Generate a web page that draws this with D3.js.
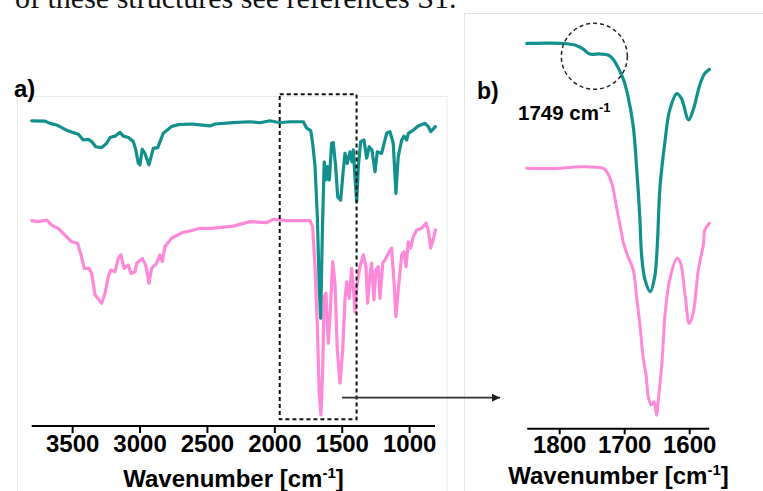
<!DOCTYPE html>
<html>
<head>
<meta charset="utf-8">
<script src="https://cdn.jsdelivr.net/npm/d3@7"></script>
<style>
  html, body { margin: 0; padding: 0; background: #fff; }
  svg { display: block; }
  text { font-family: "Liberation Sans", Arial, Helvetica, sans-serif; }
</style>
</head>
<body>
<svg id="chart" width="763" height="491"></svg>
<script>
// ---- FTIR spectra (wavenumber in cm^-1, offset transmittance in a.u.) ----
// Full range, upper trace
const teal_full_wn = [3800,3701,3664,3615,3553,3491,3454,3417,3380,3355,3325,3281,3244,3219,3182,3145,3120,3083,3046,3028,3009,2997,2980,2960,2930,2898,2865,2848,2824,2762,2712,2613,2552,2477,2440,2307,2181,2106,2032,1958,1884,1785,1760,1730,1716,1698,1681,1667,1656,1644,1630,1617,1607,1592,1575,1563,1545,1530,1508,1493,1476,1459,1439,1424,1414,1402,1389,1377,1360,1335,1315,1296,1276,1253,1236,1204,1167,1142,1118,1098,1081,1055,1038,1018,1006,969,932,882,858,840,805];
const teal_full_t = [93.5,93.4,92.7,92.2,90.8,89.8,89.3,87.5,87.7,87.0,85.4,85.1,86.5,88.3,88.7,89.9,88.7,88.3,87.0,84.4,80.2,79.7,84.6,83.3,79.7,84.9,85.1,87.0,89.6,91.7,92.3,92.5,92.2,91.9,92.5,92.9,93.2,92.9,93.5,92.9,93.2,93.2,91.2,90.4,86.5,79.2,63.5,41.7,31.8,58.4,80.7,75.0,79.2,75.0,86.5,86.7,79.2,69.8,68.7,76.0,83.3,80.2,83.8,80.7,84.4,76.0,68.2,79.2,87.0,87.5,81.8,85.4,84.4,77.6,83.8,83.3,89.6,90.1,86.5,70.8,82.3,87.5,88.7,87.5,89.6,90.6,91.9,92.7,91.7,90.1,91.7];

// Full range, lower trace
const pink_full_wn = [3800,3751,3689,3652,3603,3553,3503,3459,3434,3410,3375,3355,3330,3316,3281,3256,3232,3212,3182,3158,3138,3115,3083,3063,3034,3021,2980,2954,2930,2910,2873,2848,2831,2811,2762,2687,2613,2552,2465,2305,2181,2057,2008,1908,1736,1716,1698,1681,1667,1654,1641,1630,1617,1600,1587,1567,1550,1533,1513,1493,1476,1463,1444,1426,1414,1402,1389,1365,1340,1320,1308,1290,1278,1261,1246,1229,1216,1196,1172,1155,1130,1112,1098,1081,1055,1038,1023,1006,989,969,944,907,875,858,840,816,805];
const pink_full_t = [62.3,62.0,62.5,60.9,59.9,57.8,55.7,55.2,51.6,47.4,47.4,45.8,39.1,38.4,36.5,39.6,44.8,46.9,46.3,50.5,51.6,47.4,48.4,45.8,46.3,49.0,50.5,48.4,42.7,47.4,49.0,51.6,49.5,54.2,56.8,58.5,59.2,59.9,59.9,60.6,62.0,61.7,62.7,62.3,62.3,60.4,47.9,29.2,8.3,1.6,16.7,38.5,39.6,24.0,32.3,49.5,42.7,21.9,11.5,21.9,37.5,43.2,38.0,47.4,41.7,33.8,41.7,47.9,51.6,47.9,36.5,45.8,49.0,37.5,46.9,47.9,38.0,49.0,50.5,52.1,53.7,43.2,32.3,40.6,51.6,52.6,47.9,55.7,53.7,57.3,59.4,59.9,61.5,59.4,53.7,57.3,59.4];

// Carbonyl region detail, upper trace
const teal_zoom_wn = [1850,1794,1776,1763,1753,1737,1724,1717,1709,1701,1694,1686,1681,1676,1673,1668,1660,1653,1649,1645,1637,1630,1619,1612,1601,1594,1583,1576,1569];
const teal_zoom_t = [93.2,93.2,92.8,91.8,90.6,90.6,90.3,89.3,87.1,84.2,80.0,72.6,62.7,50.3,40.4,34.7,31.8,35.5,43.5,57.5,69.3,76.7,80.8,79.6,74.3,76.7,83.3,85.8,86.8];

// Carbonyl region detail, lower trace
const pink_zoom_wn = [1850,1799,1768,1732,1727,1719,1712,1704,1701,1694,1686,1681,1676,1671,1666,1663,1658,1654,1650,1648,1642,1637,1630,1619,1614,1606,1600,1594,1586,1578,1576,1569];
const pink_zoom_t = [62.3,62.3,62.7,62.3,61.5,58.6,52.8,46.2,43.7,40.4,37.1,30.5,23.9,15.7,10.7,5.8,3.7,4.5,1.2,4.1,14.0,26.4,34.7,40.0,39.2,30.5,23.9,26.4,37.1,43.7,47.0,48.7];

const ticksFull = [3500, 3000, 2500, 2000, 1500, 1000];
const ticksZoom = [1800, 1700, 1600];
const boxRange = [1960, 1390];   // region enlarged in panel b
const shoulderWn = 1749;
const axisTitle = "Wavenumber [cm";

const TEAL = "#12908d";
const PINK = "#ff88d8";

const svg = d3.select("#chart");

// ---------- caption fragment of the surrounding text ----------
svg.append("text")
  .attr("x", 15).attr("y", 8)
  .style("font-family", "'Liberation Serif', 'Times New Roman', serif")
  .style("font-size", "30px")
  .attr("fill", "#111")
  .text("of these structures see references S1.");

// ---------- panel frames ----------
svg.append("rect")
  .attr("x", 17.5).attr("y", 96.5).attr("width", 429.5).attr("height", 400)
  .attr("fill", "none").attr("stroke", "#ececec").attr("stroke-width", 1);
svg.append("rect")
  .attr("x", 464.5).attr("y", 13.5).attr("width", 310).attr("height", 490)
  .attr("fill", "none").attr("stroke", "#e4e4e4").attr("stroke-width", 1);

// ---------- scales ----------
const xA = d3.scaleLinear().domain([3800, 800]).range([31.7, 436.1]);
const yA = d3.scaleLinear().domain([0, 100]).range([420, 100]);
const xB = d3.scaleLinear().domain([1850, 1570]).range([526.7, 708.7]);
const yB = d3.scaleLinear().domain([0, 100]).range([420, 16]);

const zip = (w, t) => w.map((d, i) => [d, t[i]]);

function drawTrace(g, xs, ys, data, color, width, curve) {
  const line = d3.line().x(d => xs(d[0])).y(d => ys(d[1])).curve(curve);
  g.append("path")
    .datum(data)
    .attr("d", line)
    .attr("fill", "none")
    .attr("stroke", color)
    .attr("stroke-width", width)
    .attr("stroke-linejoin", "round")
    .attr("stroke-linecap", "round");
}

// ---------- panel a ----------
const gA = svg.append("g");
drawTrace(gA, xA, yA, zip(pink_full_wn, pink_full_t), PINK, 3.2, d3.curveLinear);
drawTrace(gA, xA, yA, zip(teal_full_wn, teal_full_t), TEAL, 3.2, d3.curveLinear);

// dashed box marking the enlarged region
gA.append("rect")
  .attr("x", xA(boxRange[0])).attr("y", 94.3)
  .attr("width", xA(boxRange[1]) - xA(boxRange[0])).attr("height", 325)
  .attr("fill", "none").attr("stroke", "#111")
  .attr("stroke-width", 2).attr("stroke-dasharray", "4,3");

function styleAxis(g) {
  g.select(".domain").attr("stroke", "#000").attr("stroke-width", 2);
  g.selectAll(".tick line").attr("stroke", "#000").attr("stroke-width", 2);
  g.selectAll(".tick text")
    .attr("fill", "#000")
    .style("font-size", "24px")
    .style("font-weight", "bold")
    .style("font-family", "'Liberation Sans', Arial, sans-serif");
}

const axA = svg.append("g")
  .attr("transform", "translate(0,426)")
  .call(d3.axisBottom(xA).tickValues(ticksFull).tickFormat(d3.format("d"))
    .tickSize(7).tickSizeOuter(0).tickPadding(2));
styleAxis(axA);
axA.select(".domain").attr("d", `M${xA(3800)},0H${435}`);

function axisLabel(x, y) {
  const t = svg.append("text")
    .attr("x", x).attr("y", y)
    .attr("text-anchor", "middle")
    .style("font-size", "24px").style("font-weight", "bold").attr("fill", "#000");
  t.append("tspan").text(axisTitle);
  t.append("tspan").attr("dy", -9).style("font-size", "15px").text("-1");
  t.append("tspan").attr("dy", 9).text("]");
}
axisLabel(233.5, 487);

svg.append("text")
  .attr("x", 14).attr("y", 97)
  .style("font-size", "24px").style("font-weight", "bold").attr("fill", "#000")
  .text("a)");

// arrow from the box to panel b
const defs = svg.append("defs");
defs.append("marker")
  .attr("id", "arrowHead")
  .attr("viewBox", "0 0 10 10").attr("refX", 10).attr("refY", 5)
  .attr("markerWidth", 16).attr("markerHeight", 8)
  .attr("markerUnits", "userSpaceOnUse")
  .attr("orient", "auto")
  .append("path").attr("d", "M0,0L10,5L0,10Z").attr("fill", "#222");
svg.append("line")
  .attr("x1", 342).attr("y1", 397.7).attr("x2", 500).attr("y2", 397.7)
  .attr("stroke", "#333").attr("stroke-width", 1.8)
  .attr("marker-end", "url(#arrowHead)");

// ---------- panel b ----------
const gB = svg.append("g");
drawTrace(gB, xB, yB, zip(pink_zoom_wn, pink_zoom_t), PINK, 3, d3.curveCatmullRom.alpha(0.5));
drawTrace(gB, xB, yB, zip(teal_zoom_wn, teal_zoom_t), TEAL, 3.2, d3.curveCatmullRom.alpha(0.5));

// dashed circle around the 1749 cm-1 shoulder
gB.append("circle")
  .attr("cx", xB(shoulderWn) + 2).attr("cy", 56.3).attr("r", 33)
  .attr("fill", "none").attr("stroke", "#222")
  .attr("stroke-width", 1.5).attr("stroke-dasharray", "4,3");

const axB = svg.append("g")
  .attr("transform", "translate(0,428.3)")
  .call(d3.axisBottom(xB).tickValues(ticksZoom).tickFormat(d3.format("d"))
    .tickSize(6).tickSizeOuter(0).tickPadding(2));
styleAxis(axB);

axisLabel(618.5, 483.5);

svg.append("text")
  .attr("x", 477).attr("y", 99)
  .style("font-size", "23px").style("font-weight", "bold").attr("fill", "#000")
  .text("b)");

const ann = svg.append("text")
  .attr("x", 518).attr("y", 119.5)
  .style("font-size", "20.5px").style("font-weight", "bold").attr("fill", "#000");
ann.append("tspan").text(shoulderWn + " cm");
ann.append("tspan").attr("dy", -8).style("font-size", "13px").text("-1");
</script>
</body>
</html>
